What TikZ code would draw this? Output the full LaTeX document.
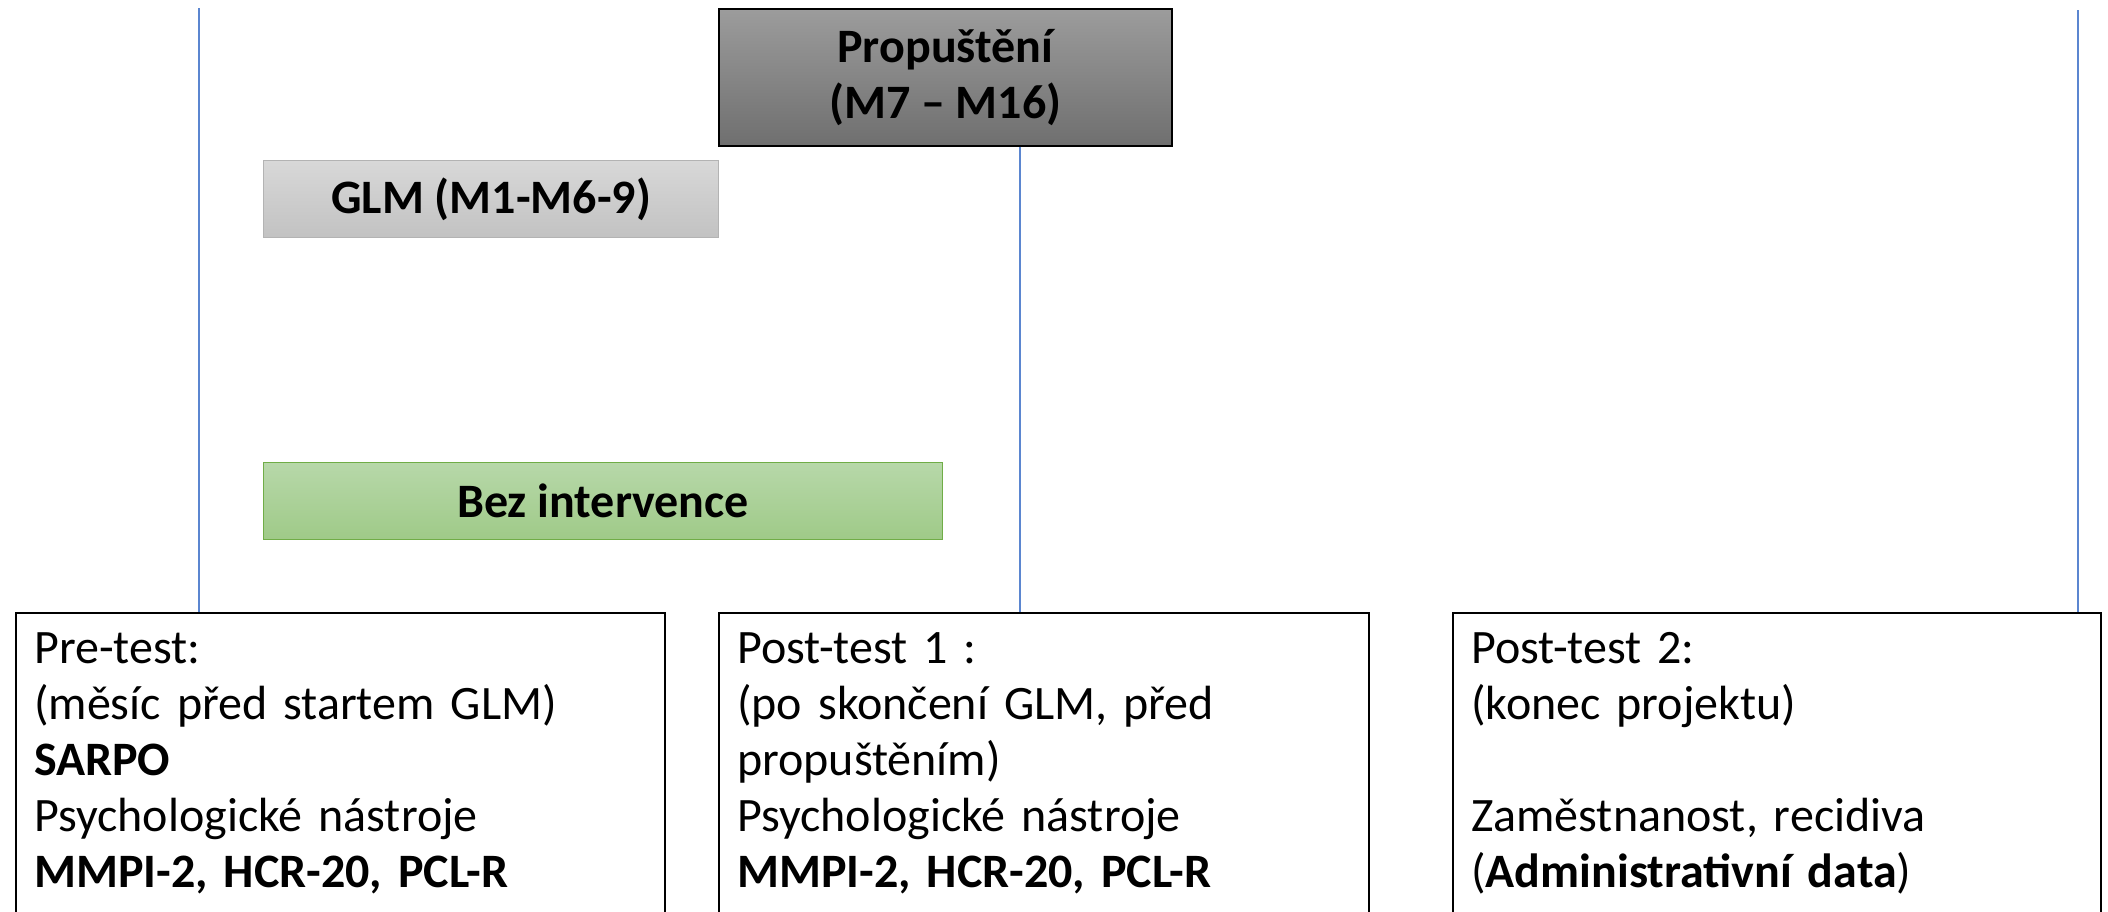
\documentclass[tikz,border=0pt]{standalone}
\usepackage{fontspec}
\setmainfont{Carlito}
\usetikzlibrary{positioning}
\definecolor{timeblue}{HTML}{5B86D0}
\definecolor{relgray}{HTML}{9C9C9C}
\definecolor{reldark}{HTML}{6F6F6F}
\definecolor{glmtop}{HTML}{D8D8D8}
\definecolor{glmbot}{HTML}{C2C2C2}
\definecolor{glmline}{HTML}{B3B3B3}
\definecolor{greentop}{HTML}{B7D8A9}
\definecolor{greenbot}{HTML}{9FCA88}
\definecolor{greenline}{HTML}{70AD47}
\tikzset{
  phase/.style={anchor=north west, inner sep=0pt, align=center,
    font=\fontsize{24}{28}\selectfont\bfseries},
  testbox/.style={draw=black, line width=1.2pt, anchor=north west, align=left,
    text width=#1, inner sep=9pt, text height=16pt, text depth=142pt,
    font=\fontsize{24}{28}\selectfont},
  timeline/.style={draw=timeblue, line width=1pt}
}
\begin{document}
\begin{tikzpicture}[x=0.5pt,y=-0.5pt]
  \useasboundingbox (0,0) rectangle (2108,911);
  % phases
  \node[phase, draw=black, line width=0.8pt, top color=relgray, bottom color=reldark,
    minimum width=226.5pt, minimum height=68.5pt] (rel) at (718,8) {Propuštění\\(M7 – M16)};
  \node[phase, draw=glmline, line width=0.6pt, top color=glmtop, bottom color=glmbot,
    minimum width=227.5pt, minimum height=38.5pt] (glm) at (263,160) {GLM (M1-M6-9)};
  \node[phase, draw=greenline, line width=0.6pt, top color=greentop, bottom color=greenbot,
    minimum width=339.5pt, minimum height=38.5pt] (bez) at (263,462) {Bez intervence};
  % tests
  \node[testbox=306.5pt] (pre) at (15,612) {Pre-test:\\(měsíc před startem GLM)\\\textbf{SARPO}\\Psychologické nástroje\\\textbf{MMPI-2, HCR-20, PCL-R}};
  \node[testbox=307pt] (post1) at (718,612) {Post-test 1 :\\(po skončení GLM, před\\propuštěním)\\Psychologické nástroje\\\textbf{MMPI-2, HCR-20, PCL-R}};
  \node[testbox=306pt] (post2) at (1452,612) {Post-test 2:\\(konec projektu)\\\mbox{}\\Zaměstnanost, recidiva\\(\textbf{Administrativní data})};
  % time lines
  \coordinate (t0) at (199,8);
  \coordinate (t1) at (1020,0);
  \coordinate (t2) at (2078,10);
  \draw[timeline] (t0) -- (t0 |- pre.north);
  \draw[timeline] (rel.south -| t1) -- (t1 |- post1.north);
  \draw[timeline] (t2) -- (t2 |- post2.north);
\end{tikzpicture}
\end{document}
